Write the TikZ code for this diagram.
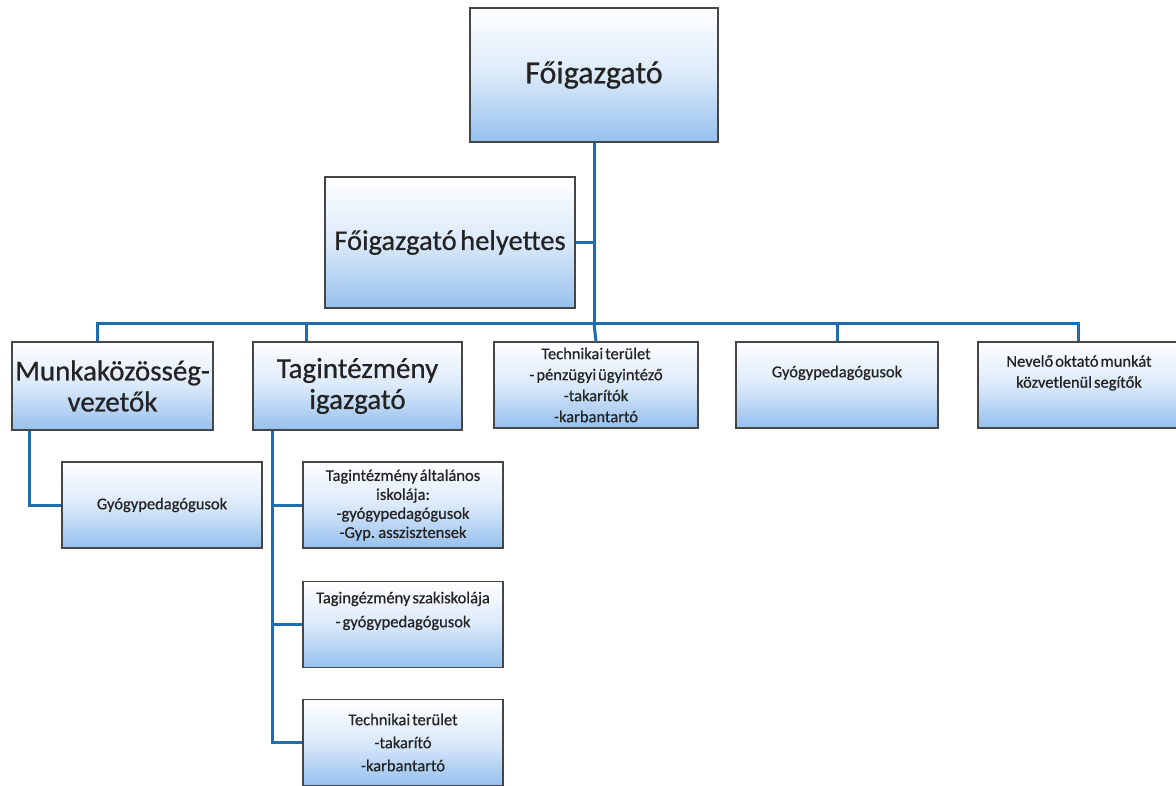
\documentclass[tikz,border=0pt]{standalone}
\usepackage{fontspec}
\setmainfont{Carlito}
\newfontfamily\semib[FakeBold=0.6]{Carlito}
\newfontfamily\semibn[FakeBold=0.6,WordSpace=0.55]{Carlito}
\definecolor{boxblue}{RGB}{150,192,238}
\definecolor{boxborder}{RGB}{70,70,70}
\definecolor{conncol}{RGB}{30,110,175}
\definecolor{txt}{RGB}{35,35,35}
\begin{document}
\begin{tikzpicture}[x=1pt,y=-1pt,
  box/.style={rectangle,top color=white,bottom color=boxblue,middle color=boxblue!35,
    draw=boxborder,line width=1.1pt,inner sep=2pt,align=center,text=txt},
  big/.style={font=\semib\fontsize{32}{36}\selectfont},
  mid/.style={font=\semib\fontsize{29}{31}\selectfont},
  small/.style={font=\semibn\fontsize{16.5}{21}\selectfont},
  conn/.style={draw=conncol,line width=3pt}]
\useasboundingbox (0,0) rectangle (1176,785);
% boxes
\node[box,big,minimum width=248,minimum height=134] (fo) at (594,75) {Főigazgató};
\node[box,minimum width=250,minimum height=131,font=\semib\fontsize{28.5}{32}\selectfont] (hely) at (450,242.5) {Főigazgató helyettes};
\node[box,mid,minimum width=201,minimum height=88] (mk) at (112.5,386) {Munkaközösség-\\vezetők};
\node[box,mid,minimum width=209,minimum height=88] (tag) at (357.5,386) {Tagintézmény\\igazgató};
\node[box,small,minimum width=204,minimum height=86] (tech) at (596,385) {Technikai terület\\- pénzügyi ügyintéző\\-takarítók\\-karbantartó};
\node[box,small,minimum width=202,minimum height=86] (gyo) at (837,385) {Gyógypedagógusok\\[6pt]};
\node[box,small,minimum width=202,minimum height=86] (nev) at (1079,385) {Nevelő oktató munkát\\közvetlenül segítők\\[6pt]};
\node[box,small,minimum width=200,minimum height=86] (gy1) at (162,505) {Gyógypedagógusok};
\node[box,minimum width=200,minimum height=86,font=\semibn\fontsize{16.5}{19}\selectfont] (t1) at (403,505) {Tagintézmény általános\\iskolája:\\-gyógypedagógusok\\-Gyp. asszisztensek};
\node[box,minimum width=200,minimum height=86,font=\semibn\fontsize{16.5}{24}\selectfont] (t2) at (403,624.5) {Tagingézmény szakiskolája\\- gyógypedagógusok\\[6pt]};
\node[box,minimum width=200,minimum height=86,font=\semibn\fontsize{16.5}{23}\selectfont] (t3) at (403,742.5) {Technikai terület\\-takarító\\-karbantartó};
% connector coordinates
\coordinate (b0) at (594,323);
\coordinate (bl) at (97,323);
\coordinate (br) at (1078,323);
\coordinate (d2) at (306,323);
\coordinate (v1) at (29,0);
\coordinate (v2) at (272,0);
% connectors
\draw[conn] (fo.south) -- (b0);
\draw[conn] (hely.east) -- (hely.east -| b0);
\draw[conn] (bl |- mk.north) -- (bl) -- (br) -- (br |- nev.north);
\draw[conn] (d2) -- (d2 |- tag.north);
\draw[conn] (b0) -- (tech.north);
\draw[conn] (b0 -| gyo.north) -- (gyo.north);
\draw[conn] (v1 |- mk.south) |- (gy1.west);
\draw[conn] (v2 |- tag.south) |- (t3.west);
\draw[conn] (v2 |- t1.west) -- (t1.west);
\draw[conn] (v2 |- t2.west) -- (t2.west);
\end{tikzpicture}
\end{document}
